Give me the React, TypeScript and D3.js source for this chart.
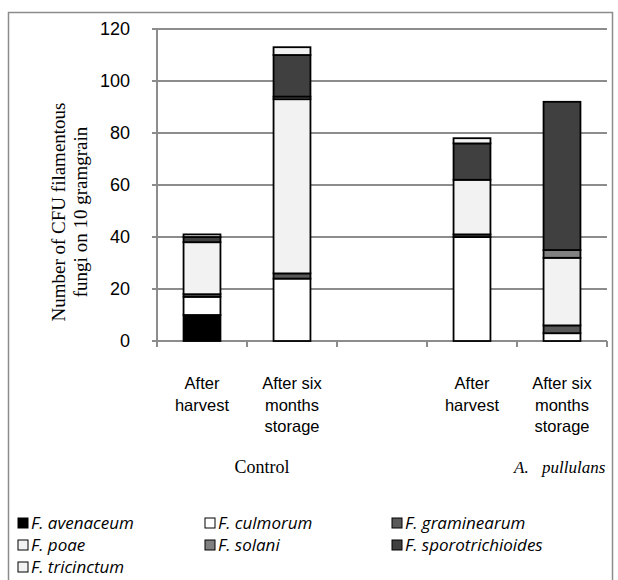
import React from "react";
import * as d3 from "d3";

const categories = ["c1", "c2", "c3", "c4", "c5"];
const categoryLabels = [
  ["After", "harvest"],
  ["After six", "months", "storage"],
  [],
  ["After", "harvest"],
  ["After six", "months", "storage"],
];
const seriesNames = [
  "F. avenaceum",
  "F. culmorum",
  "F. graminearum",
  "F. poae",
  "F. solani",
  "F. sporotrichioides",
  "F. tricinctum",
];
const seriesColors = ["#000000", "#ffffff", "#595959", "#f2f2f2", "#808080", "#404040", "#f2f2f2"];
const avenaceum = [10, 0, 0, 0, 0];
const culmorum = [7, 24, 0, 40, 3];
const graminearum = [1, 2, 0, 1, 3];
const poae = [20, 67, 0, 21, 26];
const solani = [0, 1, 0, 0, 3];
const sporotrichioides = [2, 16, 0, 14, 57];
const tricinctum = [1, 3, 0, 2, 0];
const yTicks = [0, 20, 40, 60, 80, 100, 120];

const seriesValues = [avenaceum, culmorum, graminearum, poae, solani, sporotrichioides, tricinctum];

export default function App() {
  const W = 618, H = 580;
  const left = 157, right = 607, top = 29, bottom = 341;
  const x = d3.scaleBand<string>().domain(categories).range([left, right]).padding(0);
  const y = d3.scaleLinear().domain([0, 120]).range([bottom, top]);
  const barW = x.bandwidth() * 0.41;

  const rows = categories.map((c, i) => {
    const r: any = { cat: c };
    seriesNames.forEach((s, j) => (r[s] = seriesValues[j][i]));
    return r;
  });
  const stacked = d3.stack<any>().keys(seriesNames)(rows);

  const sans = "'Liberation Sans', Arial, sans-serif";
  const legendFont = "'Open Sans', 'Liberation Sans', sans-serif";
  const serif = "'Liberation Serif', 'Times New Roman', serif";
  const grid = "#8c8c8c";

  const legendCols = [18, 205, 392];
  const legendRows = [523, 545, 567];

  return (
    <svg width={W} height={H} style={{ position: "absolute", left: 0, top: 0 }}>
      <rect x={0} y={0} width={W} height={H} fill="#fff" />
      <rect x={8.5} y={12.5} width={604} height={600} fill="none" stroke="#8c8c8c" strokeWidth={1.5} />
      {yTicks.map((t) => (
        <g key={t}>
          {t > 0 && <line x1={left - 5} x2={right} y1={y(t)} y2={y(t)} stroke={grid} strokeWidth={2} />}
          <text x={130} y={y(t) + 6} textAnchor="end" fontFamily={sans} fontSize={18} fill="#000">
            {t}
          </text>
        </g>
      ))}
      <line x1={left} x2={left} y1={top} y2={bottom} stroke={grid} strokeWidth={2} />
      <line x1={left - 5} x2={right} y1={bottom} y2={bottom} stroke={grid} strokeWidth={2} />
      {categories.map((c) => (
        <line key={c} x1={x(c)!} x2={x(c)!} y1={bottom} y2={bottom + 6} stroke={grid} strokeWidth={2} />
      ))}
      <line x1={right} x2={right} y1={bottom} y2={bottom + 6} stroke={grid} strokeWidth={2} />
      {stacked.map((layer, j) => (
        <g key={layer.key}>
          {layer.map((d, i) =>
            d[1] - d[0] > 0 ? (
              <rect
                key={i}
                x={x(categories[i])! + (x.bandwidth() - barW) / 2}
                y={y(d[1])}
                width={barW}
                height={y(d[0]) - y(d[1])}
                fill={seriesColors[j]}
                stroke="#000"
                strokeWidth={1.8}
              />
            ) : null
          )}
        </g>
      ))}
      {categories.map((c, i) => (
        <text key={c} textAnchor="middle" fontFamily={sans} fontSize={16.5} fill="#000">
          {categoryLabels[i].map((l, k) => (
            <tspan key={k} x={x(c)! + x.bandwidth() / 2} y={389 + k * 21.5}>
              {l}
            </tspan>
          ))}
        </text>
      ))}
      <g transform="translate(72,212) rotate(-90)">
        <text textAnchor="middle" fontFamily={serif} fontSize={19} fill="#000">
          <tspan x={0} y={-7}>Number of CFU filamentous</tspan>
          <tspan x={0} y={15}>fungi on 10 gramgrain</tspan>
        </text>
      </g>
      <text x={262} y={473} textAnchor="middle" fontFamily={serif} fontSize={18} fill="#000">
        Control
      </text>
      <text x={514} y={473} fontFamily={serif} fontSize={17} fontStyle="italic" fill="#000">
        A.
      </text>
      <text x={542} y={473} fontFamily={serif} fontSize={17} fontStyle="italic" fill="#000">
        pullulans
      </text>
      {seriesNames.map((s, j) => {
        const cx = legendCols[j % 3];
        const cy = legendRows[Math.floor(j / 3)];
        return (
          <g key={s}>
            <rect x={cx} y={cy - 5} width={10} height={10} fill={seriesColors[j]} stroke="#000" strokeWidth={1} />
            <text x={cx + 13} y={cy + 6} fontFamily={legendFont} fontSize={17} fontStyle="italic" fill="#000">
              {s}
            </text>
          </g>
        );
      })}
    </svg>
  );
}
